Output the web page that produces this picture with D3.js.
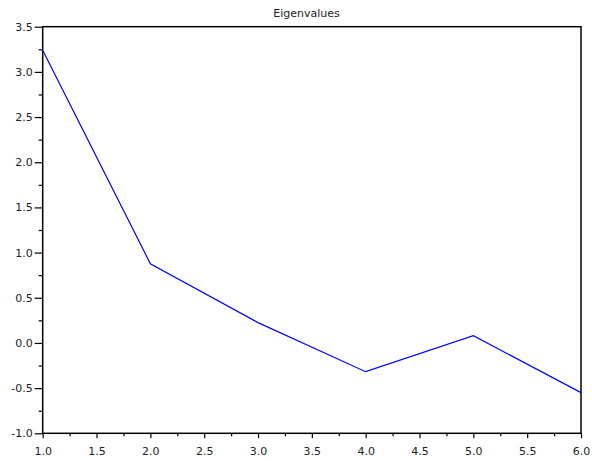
<!DOCTYPE html>
<html>
<head>
<meta charset="utf-8">
<script src="https://cdn.jsdelivr.net/npm/d3@7"></script>
<style>
  html, body { margin: 0; padding: 0; background: #fff; }
  svg text { font-family: "DejaVu Sans", sans-serif; font-size: 11px; fill: #222; }
</style>
</head>
<body>
<svg id="chart" width="592" height="461"></svg>
<script>
// Eigenvalues by component index
const components = [1, 2, 3, 4, 5, 6];
const eigenvalues = [3.24, 0.877, 0.225, -0.318, 0.08, -0.55];

const xTicks = [1.0, 1.5, 2.0, 2.5, 3.0, 3.5, 4.0, 4.5, 5.0, 5.5, 6.0];
const yTicks = [-1.0, -0.5, 0.0, 0.5, 1.0, 1.5, 2.0, 2.5, 3.0, 3.5];
const xMinor = [1.25, 1.75, 2.25, 2.75, 3.25, 3.75, 4.25, 4.75, 5.25, 5.75];
const yMinor = [-0.75, -0.25, 0.25, 0.75, 1.25, 1.75, 2.25, 2.75, 3.25];

const plot = { left: 42.7, right: 581, top: 26.7, bottom: 433.3 };

const svg = d3.select("#chart");

const x = d3.scaleLinear().domain([1, 6]).range([plot.left, plot.right]);
const y = d3.scaleLinear().domain([-1, 3.5]).range([plot.bottom, plot.top]);

// one decimal, plain hyphen for negatives
const fmt = d => d3.format(".1f")(d).replace("\u2212", "-");

// frame
svg.append("rect")
  .attr("x", plot.left).attr("y", plot.top)
  .attr("width", plot.right - plot.left).attr("height", plot.bottom - plot.top)
  .attr("fill", "none").attr("stroke", "#000").attr("stroke-width", 1.5);

// bottom axis
const xAxis = svg.append("g").attr("transform", `translate(0,${plot.bottom})`)
  .call(d3.axisBottom(x).tickValues(xTicks).tickFormat(fmt).tickSize(5).tickPadding(9));
xAxis.select(".domain").remove();
xAxis.selectAll("line").attr("stroke", "#000").attr("stroke-width", 1.2);
xAxis.selectAll("text").attr("font-family", "DejaVu Sans, sans-serif").attr("font-size", 11).attr("fill", "#222");
svg.append("g").attr("transform", `translate(0,${plot.bottom})`)
  .call(d3.axisBottom(x).tickValues(xMinor).tickFormat("").tickSize(3))
  .call(g => g.select(".domain").remove())
  .selectAll("line").attr("stroke", "#000").attr("stroke-width", 1.2);

// left axis
const yAxis = svg.append("g").attr("transform", `translate(${plot.left},0)`)
  .call(d3.axisLeft(y).tickValues(yTicks).tickFormat(fmt).tickSize(8).tickPadding(2));
yAxis.select(".domain").remove();
yAxis.selectAll("line").attr("stroke", "#000").attr("stroke-width", 1.2);
yAxis.selectAll("text").attr("font-family", "DejaVu Sans, sans-serif").attr("font-size", 11).attr("fill", "#222");
svg.append("g").attr("transform", `translate(${plot.left},0)`)
  .call(d3.axisLeft(y).tickValues(yMinor).tickFormat("").tickSize(4))
  .call(g => g.select(".domain").remove())
  .selectAll("line").attr("stroke", "#000").attr("stroke-width", 1.2);

// eigenvalue curve
const line = d3.line().x((d, i) => x(components[i])).y(d => y(d));
svg.append("path")
  .datum(eigenvalues)
  .attr("d", line)
  .attr("fill", "none")
  .attr("stroke", "#0000ff")
  .attr("stroke-width", 1.2);

// title
svg.append("text")
  .attr("x", 306.5).attr("y", 16.5)
  .attr("text-anchor", "middle")
  .attr("font-size", 11.5)
  .text("Eigenvalues");
</script>
</body>
</html>
